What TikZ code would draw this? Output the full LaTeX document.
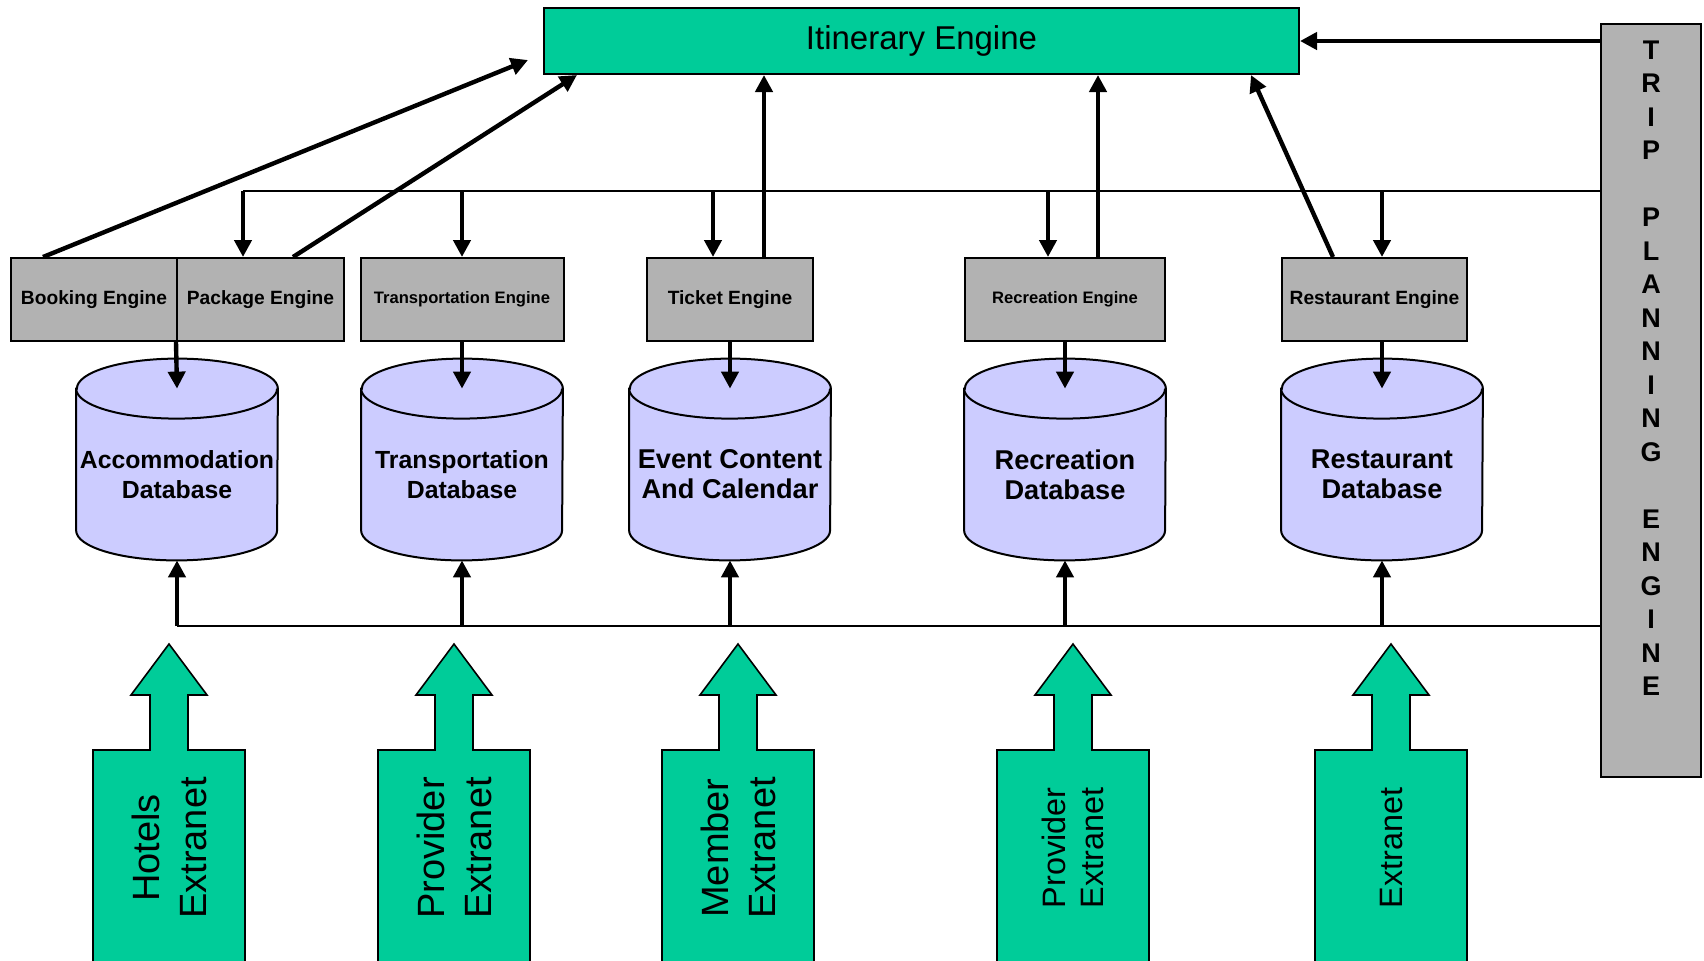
\documentclass[tikz,border=0pt]{standalone}
\usepackage{fontspec}
\setmainfont{Liberation Sans}
\usepackage{tikz}
\usetikzlibrary{arrows.meta,backgrounds}
\definecolor{itingreen}{RGB}{0,204,153}
\definecolor{enggray}{RGB}{178,178,178}
\definecolor{dbblue}{RGB}{204,204,255}
% database drum round a db node
\def\cyl#1{\filldraw[dbline] (#1.north west) -- ([yshift=15pt]#1.south west) arc[start angle=180,end angle=360,x radius=50.25pt,y radius=15pt] -- (#1.north east) arc[start angle=0,end angle=180,x radius=50.25pt,y radius=15pt] -- cycle;
  \draw[dbline,fill=none] (#1.north west) arc[start angle=180,end angle=360,x radius=50.25pt,y radius=15pt]}
% block arrow of an extranet, with its text
\def\xnet#1#2#3#4{\filldraw[xfill] (#2-76,1000) -- (#2-76,750) -- (#2-19,750) -- (#2-19,695) -- (#2-38,695) -- (#2,644) -- (#2+38,695) -- (#2+19,695) -- (#2+19,750) -- (#2+76,750) -- (#2+76,1000);
  \node[xtext,#3] (#1) at (#2,848) {#4}}
\tikzstyle{engine}=[draw=black,line width=1pt,fill=enggray,inner sep=0pt,minimum height=41.5pt,font=\fontsize{9.6}{11}\selectfont\bfseries]
\tikzstyle{engsmall}=[font=\fontsize{8.3}{10}\selectfont\bfseries]
\tikzstyle{db}=[inner sep=0pt,minimum width=100.5pt,minimum height=85.5pt,align=center,font=\fontsize{13.6}{15}\selectfont\bfseries]
\tikzstyle{dbsmall}=[font=\fontsize{12.4}{15}\selectfont\bfseries]
\tikzstyle{dbline}=[draw=black,line width=1pt,fill=dbblue]
\tikzstyle{flow}=[line width=2.2pt,-{Triangle[length=8.5pt,width=8.5pt]}]
\tikzstyle{bus}=[line width=1pt]
\tikzstyle{xfill}=[fill=itingreen,draw=black,line width=0.8pt]
\tikzstyle{xtext}=[rotate=90,align=center,font=\fontsize{19}{23.5}\selectfont]
\tikzstyle{xsmall}=[font=\fontsize{16.2}{19}\selectfont]

\begin{document}
\begin{tikzpicture}[x=0.5pt,y=-0.5pt]
    \useasboundingbox (0,0) rectangle (1704,960);
    \node[draw=black,line width=1pt,fill=itingreen,minimum width=377.5pt,minimum height=33pt,font=\fontsize{16.5}{20}\selectfont] (itin) at (921.5,41) {Itinerary Engine};
    \node[draw=black,line width=1pt,fill=enggray,minimum width=50pt,minimum height=376.5pt,
      label={[yshift=16.25pt,align=center,font=\fontsize{13.5}{16.75}\selectfont\bfseries]center:{T\\R\\I\\P\\[\baselineskip]P\\L\\A\\N\\N\\I\\N\\G\\[\baselineskip]E\\N\\G\\I\\N\\E}}] (tpe) at (1651,400.5) {};

    % engines
    \node[engine,minimum width=83pt] (booking) at (94,299.5) {Booking Engine};
    \node[engine,minimum width=83.5pt] (package) at (260.5,299.5) {Package Engine};
    \node[engine,engsmall,minimum width=101.5pt] (transeng) at (462,299.5) {Transportation Engine};
    \node[engine,minimum width=83pt] (ticket) at (730,299.5) {Ticket Engine};
    \node[engine,engsmall,minimum width=100pt] (receng) at (1065,299.5) {Recreation Engine};
    \node[engine,minimum width=92.5pt] (resteng) at (1374.5,299.5) {Restaurant Engine};

    % databases
    \node[db,dbsmall] (accdb) at (177,474.5) {Accommodation\\Database};
    \node[db,dbsmall] (transdb) at (462,474.5) {Transportation\\Database};
    \node[db] (eventdb) at (730,474.5) {Event Content\\And Calendar};
    \node[db] (recdb) at (1065,474.5) {Recreation\\Database};
    \node[db] (restdb) at (1382,474.5) {Restaurant\\Database};
    \begin{scope}[on background layer]
      \foreach \d in {accdb,transdb,eventdb,recdb,restdb} {\cyl{\d};}
    \end{scope}

    % the two buses from the trip planner
    \coordinate (topbus) at (0,191);
    \coordinate (lowbus) at (0,626);
    \coordinate (pkin) at ([xshift=-8.75pt]package.north);
    \coordinate (tkin) at ([xshift=-8.5pt]ticket.north);
    \coordinate (rcin) at ([xshift=-8.5pt]receng.north);
    \coordinate (rsin) at (restdb.north |- resteng.north);
    \draw[bus] (pkin |- topbus) -- (tpe.west |- topbus);
    \draw[bus] (accdb.south |- lowbus) -- (tpe.west |- lowbus);
    \foreach \c in {pkin,transeng.north,tkin,rcin,rsin}
      \draw[flow] (\c |- topbus) -- (\c);
    \foreach \d in {accdb,transdb,eventdb,recdb,restdb}
      \draw[flow] (\d.south |- lowbus) -- (\d.south);

    % engines feed their databases
    \draw[flow] (package.south west) -- (accdb.north);
    \draw[flow] (transeng.south) -- (transdb.north);
    \draw[flow] (ticket.south) -- (eventdb.north);
    \draw[flow] (receng.south) -- (recdb.north);
    \draw[flow] (restdb.north |- resteng.south) -- (restdb.north);

    % up to the itinerary
    \coordinate (tkout) at ([xshift=17pt]ticket.north);
    \coordinate (rcout) at ([xshift=16.5pt]receng.north);
    \draw[flow] ([xshift=-25.5pt]booking.north) -- ([xshift=-7.5pt,yshift=-9.5pt]itin.west);
    \draw[flow] ([xshift=16.25pt]package.north) -- ([xshift=17pt]itin.south west);
    \draw[flow] (tkout) -- (tkout |- itin.south);
    \draw[flow] (rcout) -- (rcout |- itin.south);
    \draw[flow] ([xshift=-20.75pt]resteng.north) -- ([xshift=-24.5pt]itin.south east);
    \draw[flow] (tpe.west |- itin.east) -- (itin.east);

    % extranets
    \xnet{hotelsx}{169}{}{Hotels\\Extranet};
    \xnet{provx}{454}{}{Provider\\Extranet};
    \xnet{memberx}{738}{}{Member\\Extranet};
    \xnet{recx}{1073}{xsmall}{Provider\\Extranet};
    \xnet{restx}{1391}{xsmall}{Extranet};
  \end{tikzpicture}
\end{document}
